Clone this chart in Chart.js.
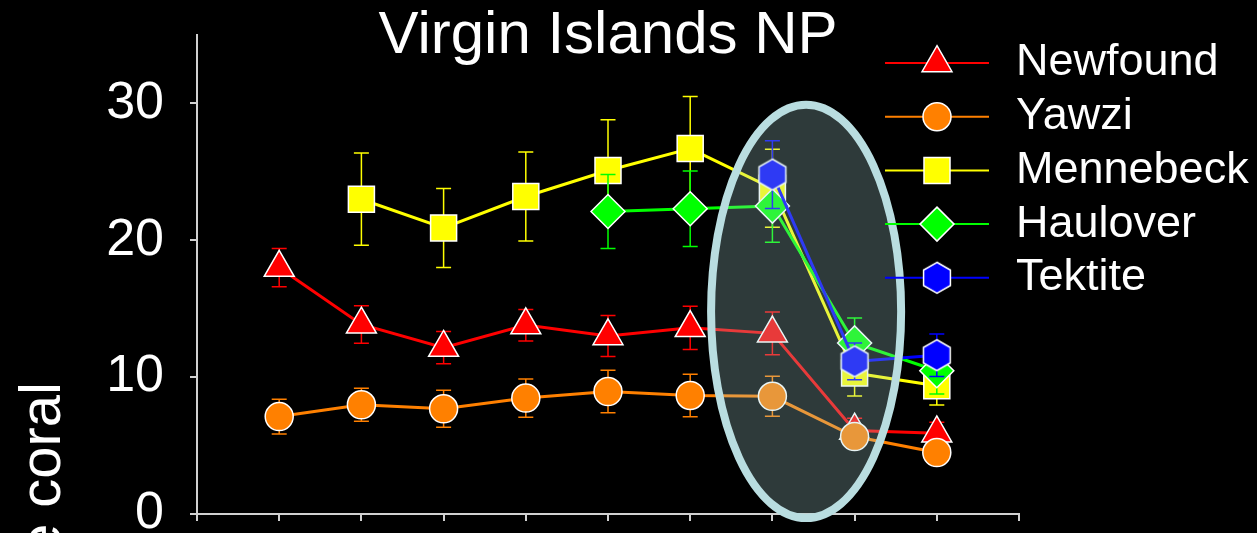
<!DOCTYPE html>
<html>
<head>
<meta charset="utf-8">
<title>Virgin Islands NP</title>
<script src="https://cdn.jsdelivr.net/npm/chart.js@4.4.1/dist/chart.umd.min.js"></script>
<style>
  html, body { margin: 0; padding: 0; background: #000; overflow: hidden; }
  #wrap { position: relative; width: 1257px; height: 533px; }
</style>
</head>
<body>
<div id="wrap"><canvas id="chart1"></canvas></div>
<script>
// survey periods (x axis has ticks but no labels)
const periods = [1, 2, 3, 4, 5, 6, 7, 8, 9]
const yTicks = [0, 10, 20, 30]

const newfound = [18.0, 13.85, 12.15, 13.8, 13.0, 13.6, 13.2, 6.1, 5.9]
const newfoundErr = [1.4, 1.37, 1.18, 1.15, 1.5, 1.58, 1.56, 0.9, 0.8]
const yawzi = [7.12, 7.98, 7.69, 8.47, 8.95, 8.66, 8.6, 5.66, 4.49]
const yawziErr = [1.27, 1.2, 1.35, 1.4, 1.56, 1.56, 1.46, 0.7, 0.6]
const mennebeck = [null, 23.0, 20.9, 23.2, 25.1, 26.7, 23.8, 10.3, 9.37]
const mennebeckErr = [null, 3.37, 2.88, 3.26, 3.7, 3.8, 2.85, 1.68, 1.4]
const haulover = [null, null, null, null, 22.1, 22.3, 22.5, 12.5, 10.47]
const hauloverErr = [null, null, null, null, 2.7, 2.76, 2.64, 1.83, 1.7]
const tektite = [null, null, null, null, null, null, 24.8, 11.15, 11.6]
const tektiteErr = [null, null, null, null, null, null, 2.47, 1.34, 1.56]

// highlighted period (ellipse), in data units
const highlight = { x: 7.41, y: 14.8, rx: 1.156, ry: 15.1 }

const FONT = "'Liberation Sans', Arial, sans-serif"

function hexagon(color) {
    const r = 15.5, size = 36
    const c = document.createElement('canvas')
    c.width = size
    c.height = size
    const g = c.getContext('2d')
    g.beginPath()
    for (let k = 0; k < 6; k++) {
        const a = -Math.PI / 2 + k * Math.PI / 3
        const px = size / 2 + r * Math.cos(a), py = size / 2 + r * Math.sin(a)
        if (k === 0) g.moveTo(px, py); else g.lineTo(px, py)
    }
    g.closePath()
    g.fillStyle = color
    g.fill()
    g.strokeStyle = '#ffffff'
    g.lineWidth = 1.5
    g.stroke()
    return c
}

function points(values, errs) {
    let out = []
    periods.forEach((p, i) => {
        if (values[i] !== null) out.push({ x: p, y: values[i], err: errs[i] })
    })
    return out
}

function series(label, values, errs, color, style, radius, order) {
    return {
        label: label,
        data: points(values, errs),
        borderColor: color,
        backgroundColor: color,
        borderWidth: 3,
        pointStyle: style,
        pointRadius: radius,
        pointHoverRadius: radius,
        pointBorderColor: '#ffffff',
        pointBorderWidth: 1.5,
        pointBackgroundColor: color,
        order: order,
    }
}

const errorBars = {
    id: 'errorBars',
    beforeDatasetDraw(chart, args) {
        const ds = chart.data.datasets[args.index]
        const y = chart.scales.y
        const ctx = chart.ctx
        ctx.save()
        ctx.strokeStyle = ds.borderColor
        ctx.lineWidth = 1.5
        args.meta.data.forEach((el, i) => {
            const d = ds.data[i]
            if (!d.err) return
            const top = y.getPixelForValue(d.y + d.err)
            const bot = y.getPixelForValue(d.y - d.err)
            ctx.beginPath()
            ctx.moveTo(el.x, top); ctx.lineTo(el.x, bot)
            ctx.moveTo(el.x - 7.5, top); ctx.lineTo(el.x + 7.5, top)
            ctx.moveTo(el.x - 7.5, bot); ctx.lineTo(el.x + 7.5, bot)
            ctx.stroke()
        })
        ctx.restore()
    }
}

const ellipse = {
    id: 'ellipse',
    afterDatasetsDraw(chart) {
        const xs = chart.scales.x, ys = chart.scales.y
        const cx = xs.getPixelForValue(highlight.x)
        const cy = ys.getPixelForValue(highlight.y)
        const rx = xs.getPixelForValue(highlight.x + highlight.rx) - cx
        const ry = cy - ys.getPixelForValue(highlight.y + highlight.ry)
        const ctx = chart.ctx
        ctx.save()
        ctx.beginPath()
        ctx.ellipse(cx, cy, rx, ry, 0, 0, Math.PI * 2)
        ctx.fillStyle = 'rgba(170, 215, 215, 0.27)'
        ctx.fill()
        ctx.lineWidth = 8
        ctx.strokeStyle = '#b9dde0'
        ctx.stroke()
        ctx.restore()
    }
}

const yTitle = {
    id: 'yTitle',
    afterDraw(chart) {
        const ctx = chart.ctx
        ctx.save()
        ctx.translate(60, 382)
        ctx.rotate(-Math.PI / 2)
        ctx.font = '58px ' + FONT
        ctx.fillStyle = '#ffffff'
        ctx.textAlign = 'right'
        ctx.textBaseline = 'alphabetic'
        ctx.fillText(chart.options.scales.y.title.text, 0, 0)
        ctx.restore()
    }
}

const sideLegend = {
    id: 'sideLegend',
    afterDraw(chart) {
        const ctx = chart.ctx
        const x0 = 885, x1 = 989, mx = 937, tx = 1016
        chart.data.datasets.forEach((ds, i) => {
            const y = 63 + i * 53.7
            ctx.save()
            ctx.strokeStyle = ds.borderColor
            ctx.lineWidth = 2
            ctx.beginPath()
            ctx.moveTo(x0, y); ctx.lineTo(x1, y)
            ctx.stroke()
            ctx.fillStyle = ds.pointBackgroundColor
            ctx.strokeStyle = ds.pointBorderColor
            ctx.lineWidth = ds.pointBorderWidth
            Chart.helpers.drawPoint(ctx, {
                pointStyle: ds.pointStyle, rotation: 0,
                radius: ds.pointRadius, borderWidth: ds.pointBorderWidth
            }, mx, y)
            ctx.fillStyle = '#ffffff'
            ctx.font = '45px ' + FONT
            ctx.textAlign = 'left'
            ctx.textBaseline = 'middle'
            ctx.fillText(ds.label, tx, y)
            ctx.restore()
        })
    }
}

const datasets = [
    series('Newfound', newfound, newfoundErr, '#ff0000', 'triangle', 17.3, 5),
    series('Yawzi', yawzi, yawziErr, '#ff8000', 'circle', 14, 4),
    series('Mennebeck', mennebeck, mennebeckErr, '#ffff00', 'rect', 18.4, 3),
    series('Haulover', haulover, hauloverErr, '#00ff00', 'rectRot', 17, 2),
    series('Tektite', tektite, tektiteErr, '#0000ff', hexagon('#0000ff'), 15.5, 1),
]

const axisColor = '#d0d0d0'

new Chart(document.getElementById('chart1'), {
    type: 'line',
    data: { datasets: datasets },
    options: {
        responsive: true,
        maintainAspectRatio: false,
        animation: false,
        events: [],
        layout: { autoPadding: false, padding: { left: 0, right: 238, top: 0, bottom: 12 } },
        scales: {
            x: {
                type: 'linear',
                min: 0,
                max: 10,
                ticks: { display: false, stepSize: 1 },
                grid: { drawOnChartArea: false, drawTicks: true, tickLength: 7, color: axisColor, lineWidth: 2 },
                border: { display: true, color: axisColor, width: 2 },
                afterFit: s => { s.height = 7; s.paddingLeft = 0; s.paddingRight = 0 },
            },
            y: {
                min: 0,
                max: 35,
                afterBuildTicks: s => { s.ticks = yTicks.map(v => ({ value: v })) },
                afterFit: s => { s.width = 197; s.paddingTop = 0; s.paddingBottom = 0 },
                ticks: { color: '#ffffff', padding: 26, font: { family: FONT, size: 52 } },
                grid: { drawOnChartArea: false, drawTicks: true, tickLength: 7, color: axisColor, lineWidth: 2 },
                border: { display: true, color: axisColor, width: 2 },
                title: { display: false, text: 'Percent live coral' },
            }
        },
        plugins: {
            legend: { display: false },
            tooltip: { enabled: false },
            title: {
                display: true,
                text: 'Virgin Islands NP',
                color: '#ffffff',
                fullSize: false,
                font: { family: FONT, size: 60, weight: 'normal', lineHeight: 1 },
                padding: { top: 6, bottom: -31 },
            },
        }
    },
    plugins: [errorBars, ellipse, yTitle, sideLegend]
})
</script>
</body>
</html>
